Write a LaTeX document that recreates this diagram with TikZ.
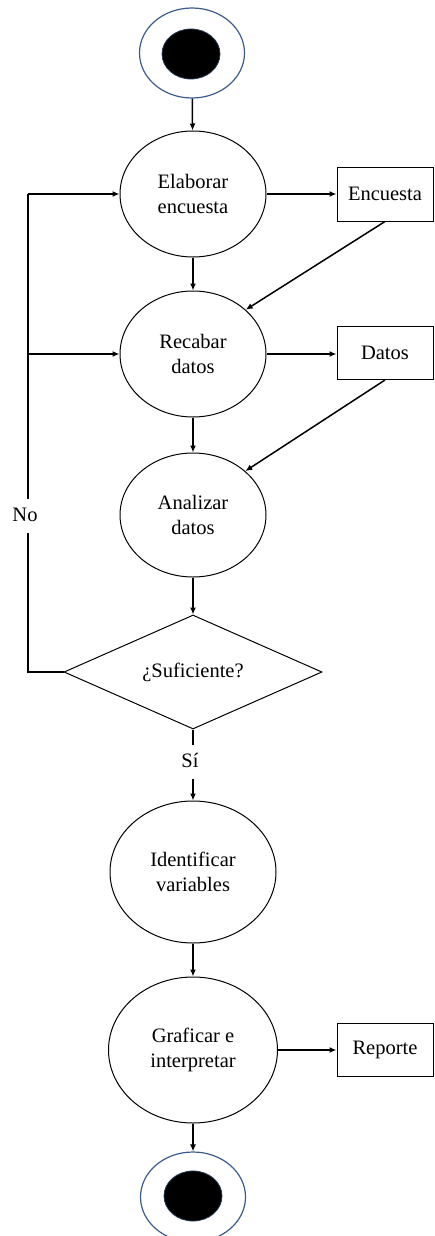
\documentclass[tikz,border=0pt]{standalone}
\usepackage{fontspec}
\setmainfont{Liberation Serif}
\usetikzlibrary{shapes.geometric,arrows.meta}

\definecolor{ringblue}{HTML}{3B5B8E}

\tikzset{
  every node/.style={font=\fontsize{20.5}{25}\selectfont, align=center},
  activity/.style={ellipse, draw, line width=1pt, inner sep=0pt},
  artefact/.style={rectangle, draw, line width=1pt, inner sep=0pt},
  decision/.style={diamond, draw, line width=1pt, inner sep=0pt, aspect=2.26},
  terminal/.style={ellipse, draw=ringblue, line width=1.2pt, minimum width=105pt, minimum height=90pt, inner sep=0pt},
  dot/.style={ellipse, fill=black, draw=ringblue!60!black, line width=0.8pt, minimum width=58pt, minimum height=50pt, inner sep=0pt},
  flowlabel/.style={inner sep=8pt, text height=14pt, text depth=4pt},
  flow/.style={line width=1.5pt, -{Latex[length=7pt,width=6pt]}},
  plain/.style={line width=1.5pt},
}

\begin{document}
\begin{tikzpicture}[x=1pt,y=-1pt]
  \useasboundingbox (0,0) rectangle (434,1236);

  % start state
  \node[terminal] (start) at (192,53) {};
  \node[dot] (startdot) at (191,54) {};

  % activities
  \node[activity, minimum width=146pt, minimum height=126pt] (elab) at (193,194) {Elaborar\\encuesta};
  \node[activity, minimum width=146pt, minimum height=126pt] (rec)  at (193,354) {Recabar\\datos};
  \node[activity, minimum width=146pt, minimum height=124pt] (ana)  at (193,515) {Analizar\\datos};
  \node[decision, minimum width=258pt, minimum height=114pt] (dec)  at (193,672) {¿Suficiente?};
  \node[activity, minimum width=166pt, minimum height=142pt] (iden) at (193,872) {Identificar\\variables};
  \node[activity, minimum width=169pt, minimum height=146pt] (graf) at (193,1050) {Graficar e\\interpretar};

  % artefacts
  \node[artefact, minimum width=96pt, minimum height=54pt] (enc) at (385,194) {Encuesta};
  \node[artefact, minimum width=96pt, minimum height=53pt] (dat) at (385,353) {Datos};
  \node[artefact, minimum width=96pt, minimum height=53pt] (rep) at (385,1050) {Reporte};

  % end state
  \node[terminal] (end) at (193,1197) {};
  \node[dot] (enddot) at (193,1196) {};

  % guard labels
  \node[flowlabel] (no) at (25,516) {No};
  \node[flowlabel] (si) at (190,762) {Sí};
  \coordinate (lp) at (28,194);

  % main sequence
  \draw[flow] (start) -- (elab);
  \draw[flow] (elab) -- (rec);
  \draw[flow] (rec) -- (ana);
  \draw[flow] (ana) -- (dec);
  \draw[plain] (dec.south) -- (dec.south |- si.north);
  \draw[flow] (iden.north |- si.south) -- (iden.north);
  \draw[flow] (iden) -- (graf);
  \draw[flow] (graf) -- (end);

  % produced artefacts
  \draw[flow] (elab.east) -- (elab.east -| enc.west);
  \draw[flow] (rec.east) -- (rec.east -| dat.west);
  \draw[flow] (graf.east) -- (graf.east -| rep.west);
  \draw[flow] (enc.south) -- (rec.40);
  \draw[flow] (dat.south) -- (ana.40);

  % loop back when the data are not enough
  \draw[plain] (dec.west) -| (lp |- no.south);
  \draw[plain] (lp |- no.north) -- (lp);
  \draw[flow] (lp) -- (elab.west);
  \draw[flow] (lp |- rec.west) -- (rec.west);
\end{tikzpicture}
\end{document}
